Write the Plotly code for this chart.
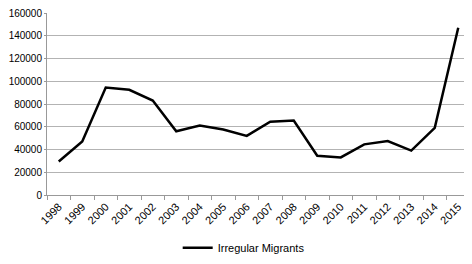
import plotly.graph_objects as go

years = [str(y) for y in range(1998, 2016)]
migrants = [29500, 47000, 94500, 92500, 83000, 56000, 61000, 57500, 52000,
            64500, 65500, 34500, 33000, 44500, 47500, 39000, 59000, 147000]
y_ticks = [0, 20000, 40000, 60000, 80000, 100000, 120000, 140000, 160000]

fig = go.Figure()
fig.add_trace(go.Scatter(x=years, y=migrants, mode="lines", name="Irregular Migrants",
                         line=dict(color="black", width=2.5)))

font = dict(family="Liberation Sans, Arial, sans-serif", size=11, color="black")
fig.update_layout(
    width=464, height=256,
    margin=dict(l=39, r=2, t=5, b=61),
    paper_bgcolor="white", plot_bgcolor="white",
    font=font,
    showlegend=True,
    legend=dict(orientation="h", x=0.465, xanchor="center", y=-0.21, yanchor="top",
                font=dict(size=11)),
    xaxis=dict(type="category", range=[-0.5, 17.5], tickangle=-45, ticks="outside",
               tickson="boundaries", automargin=False,
               ticklen=4, tickcolor="#999999", showline=True, linecolor="#999999",
               showgrid=False, tickfont=dict(size=11)),
    yaxis=dict(range=[0, 160000], tickvals=y_ticks, ticks="outside", ticklen=2,
               automargin=False,
               tickcolor="#999999", showline=True, linecolor="#999999",
               gridcolor="#b3b3b3", gridwidth=1, zeroline=False, tickformat="d",
               ticklabeloverflow="allow", tickfont=dict(size=10)),
)
fig.write_html("out.html")
